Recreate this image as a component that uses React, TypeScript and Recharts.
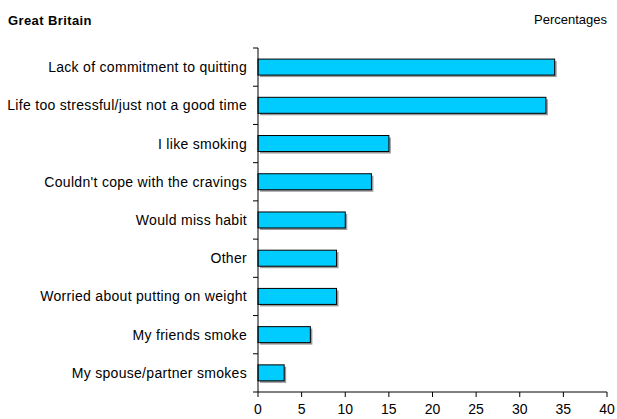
import { BarChart, Bar, XAxis, YAxis } from "recharts";

const reasons = [
  "Lack of commitment to quitting",
  "Life too stressful/just not a good time",
  "I like smoking",
  "Couldn't cope with the cravings",
  "Would miss habit",
  "Other",
  "Worried about putting on weight",
  "My friends smoke",
  "My spouse/partner smokes",
];
const percentages = [34, 33, 15, 13, 10, 9, 9, 6, 3];
const xTicks = [0, 5, 10, 15, 20, 25, 30, 35, 40];

const data = reasons.map((r, i) => ({ reason: r, value: percentages[i] }));

const W = 617;
const H = 419;
const M = { top: 48, right: 10, bottom: 5, left: 0 };
const Y_W = 258;
const X_H = 22;
const band = (H - M.top - M.bottom - X_H) / reasons.length;
const font = "'Liberation Sans', Arial, sans-serif";

const BarWithShadow = (props: any) => {
  const x = Number(props.x);
  const y = Number(props.y);
  const width = Number(props.width);
  const height = Number(props.height);
  if (!(width > 0)) return <g />;
  return (
    <g>
      <rect x={x + 2} y={y + 2} width={width} height={height} fill="#9a9a9a" />
      <rect x={x} y={y} width={width} height={height} fill="#00ccff" stroke="#000" strokeWidth={1} />
    </g>
  );
};

const ReasonTick = (props: any) => {
  const { y, payload, index } = props;
  const axisX = Y_W;
  return (
    <g>
      <line x1={axisX - 5} x2={axisX} y1={y - band / 2} y2={y - band / 2} stroke="#000" />
      {index === reasons.length - 1 && (
        <line x1={axisX - 5} x2={axisX} y1={y + band / 2} y2={y + band / 2} stroke="#000" />
      )}
      <text
        x={axisX - 11}
        y={y}
        dy={5}
        textAnchor="end"
        fontSize={14}
        letterSpacing={0.3}
        fill="#000"
        fontFamily={font}
      >
        {payload.value}
      </text>
    </g>
  );
};

const NumTick = (props: any) => {
  const { x, y, payload } = props;
  return (
    <text x={x} y={y} dy={15} textAnchor="middle" fontSize={14} fill="#000" fontFamily={font}>
      {payload.value}
    </text>
  );
};

export default function App() {
  return (
    <div style={{ position: "absolute", left: 0, top: 0, width: W, height: H, background: "#fff", fontFamily: font }}>
      <div style={{ position: "absolute", left: 8, top: 13, fontSize: 13, fontWeight: "bold", letterSpacing: 0.4 }}>
        Great Britain
      </div>
      <div style={{ position: "absolute", right: 10, top: 12, fontSize: 13 }}>Percentages</div>
      <BarChart width={W} height={H} data={data} layout="vertical" margin={M} barCategoryGap="29%">
        <XAxis
          type="number"
          domain={[0, 40]}
          ticks={xTicks}
          height={X_H}
          tickSize={5}
          tick={(p: any) => <NumTick {...p} />}
          stroke="#000"
          interval={0}
        />
        <YAxis
          type="category"
          dataKey="reason"
          width={Y_W}
          tickLine={false}
          tick={(p: any) => <ReasonTick {...p} />}
          stroke="#000"
          interval={0}
        />
        <Bar
          dataKey="value"
          fill="#00ccff"
          stroke="#000"
          shape={(p: any) => <BarWithShadow {...p} />}
          isAnimationActive={false}
        />
      </BarChart>
    </div>
  );
}
